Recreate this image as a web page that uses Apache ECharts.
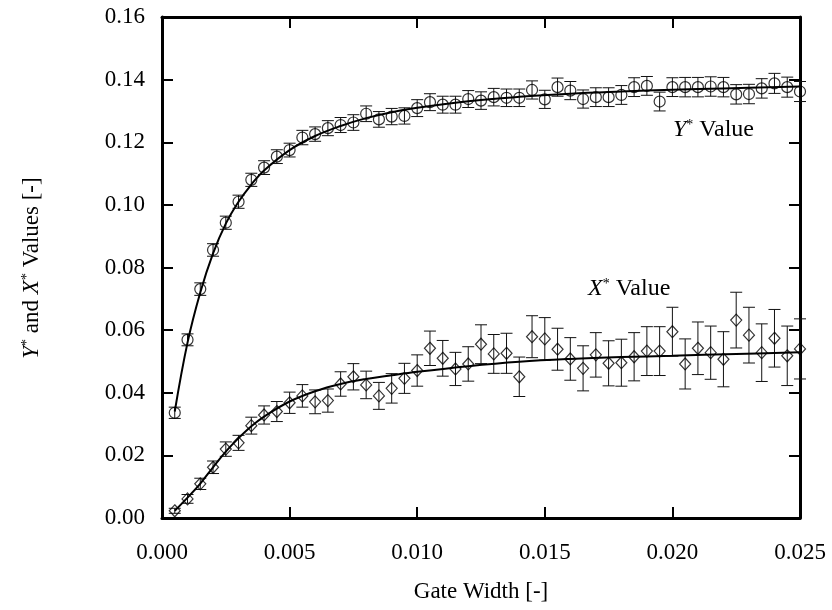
<!DOCTYPE html>
<html>
<head>
<meta charset="utf-8">
<script src="https://cdn.jsdelivr.net/npm/echarts@6/dist/echarts.min.js"></script>
<style>
html,body{margin:0;padding:0;background:#fff;}
#chart{width:832px;height:610px;}
</style>
</head>
<body>
<div id="chart"></div>
<script>
// Gate widths of the measured points
const gateWidth = [
  0.0005,0.0010,0.0015,0.0020,0.0025,0.0030,0.0035,0.0040,0.0045,0.0050,
  0.0055,0.0060,0.0065,0.0070,0.0075,0.0080,0.0085,0.0090,0.0095,0.0100,
  0.0105,0.0110,0.0115,0.0120,0.0125,0.0130,0.0135,0.0140,0.0145,0.0150,
  0.0155,0.0160,0.0165,0.0170,0.0175,0.0180,0.0185,0.0190,0.0195,0.0200,
  0.0205,0.0210,0.0215,0.0220,0.0225,0.0230,0.0235,0.0240,0.0245,0.0250
];
// Y* values (circles) and their errors
const yStar = [
  0.0336,0.0569,0.0731,0.0856,0.0943,0.1010,0.1080,0.1119,0.1154,0.1175,
  0.1215,0.1226,0.1245,0.1255,0.1263,0.1291,0.1273,0.1282,0.1284,0.1309,
  0.1328,0.1320,0.1320,0.1338,0.1333,0.1344,0.1342,0.1342,0.1367,0.1337,
  0.1376,0.1365,0.1338,0.1344,0.1344,0.1351,0.1376,0.1380,0.1330,0.1376,
  0.1376,0.1376,0.1378,0.1376,0.1353,0.1354,0.1372,0.1388,0.1376,0.1362
];
const yStarErr = [
  0.0018,0.0019,0.0020,0.0020,0.0021,0.0021,0.0021,0.0022,0.0022,0.0022,
  0.0023,0.0023,0.0024,0.0024,0.0025,0.0025,0.0025,0.0026,0.0026,0.0027,
  0.0027,0.0027,0.0027,0.0027,0.0028,0.0028,0.0028,0.0028,0.0029,0.0029,
  0.0029,0.0029,0.0029,0.0030,0.0030,0.0030,0.0030,0.0030,0.0030,0.0030,
  0.0031,0.0031,0.0031,0.0031,0.0031,0.0031,0.0031,0.0032,0.0032,0.0032
];
// X* values (diamonds) and their errors
const xStar = [
  0.0023,0.0061,0.0109,0.0162,0.0220,0.0240,0.0295,0.0329,0.0340,0.0368,
  0.0390,0.0371,0.0375,0.0428,0.0451,0.0425,0.0390,0.0414,0.0446,0.0471,
  0.0542,0.0510,0.0476,0.0492,0.0555,0.0524,0.0526,0.0451,0.0579,0.0572,
  0.0539,0.0508,0.0478,0.0521,0.0494,0.0496,0.0515,0.0533,0.0533,0.0595,
  0.0492,0.0542,0.0528,0.0507,0.0632,0.0584,0.0528,0.0574,0.0518,0.0540
];
const xStarErr = [
  0.0008,0.0014,0.0018,0.0020,0.0023,0.0024,0.0027,0.0029,0.0032,0.0034,
  0.0036,0.0038,0.0037,0.0039,0.0042,0.0044,0.0043,0.0047,0.0048,0.0050,
  0.0055,0.0057,0.0053,0.0055,0.0062,0.0062,0.0064,0.0063,0.0067,0.0068,
  0.0067,0.0068,0.0072,0.0071,0.0072,0.0075,0.0077,0.0078,0.0078,0.0078,
  0.0080,0.0084,0.0085,0.0088,0.0089,0.0089,0.0092,0.0092,0.0095,0.0096
];
// Fitted curves
const yFitX = [0.0005,0.0010,0.0015,0.0020,0.0025,0.0030,0.0035,0.0040,0.0050,0.0060,0.0070,0.0080,0.0090,0.0100,0.0120,0.0140,0.0160,0.0180,0.0200,0.0220,0.0250];
const yFitY = [0.0340,0.0560,0.0720,0.0845,0.0940,0.1010,0.1065,0.1110,0.1175,0.1220,0.1252,0.1277,0.1296,0.1310,0.1331,0.1345,0.1355,0.1362,0.1368,0.1372,0.1378];
const xFitX = [0.0005,0.0010,0.0015,0.0020,0.0025,0.0030,0.0035,0.0040,0.0050,0.0060,0.0070,0.0080,0.0090,0.0100,0.0120,0.0140,0.0160,0.0180,0.0200,0.0225,0.0250];
const xFitY = [0.0023,0.0065,0.0110,0.0162,0.0212,0.0255,0.0293,0.0324,0.0372,0.0405,0.0428,0.0444,0.0456,0.0467,0.0485,0.0499,0.0508,0.0514,0.0518,0.0524,0.0529];

const xTickMin = 0, xTickMax = 0.025, xTickStep = 0.005;
const yTickMin = 0, yTickMax = 0.16, yTickStep = 0.02;

const FONT = '"Liberation Serif","Times New Roman",serif';

const chart = echarts.init(document.getElementById('chart'), null, {renderer:'canvas'});

function pairs(xs, ys){ return xs.map((x,i)=>[x, ys[i]]); }
function errData(xs, ys, es){ return xs.map((x,i)=>[x, ys[i]-es[i], ys[i]+es[i]]); }

function errRender(params, api){
  const x = api.value(0);
  const p1 = api.coord([x, api.value(1)]);
  const p2 = api.coord([x, api.value(2)]);
  const w = 6;
  const st = {stroke:'#111', lineWidth:1};
  return {type:'group', children:[
    {type:'line', shape:{x1:p1[0], y1:p1[1], x2:p2[0], y2:p2[1]}, style:st},
    {type:'line', shape:{x1:p1[0]-w, y1:p1[1], x2:p1[0]+w, y2:p1[1]}, style:st},
    {type:'line', shape:{x1:p2[0]-w, y1:p2[1], x2:p2[0]+w, y2:p2[1]}, style:st}
  ]};
}

const axisLineStyle = {color:'#000', width:3};
const tickStyle = {color:'#000', width:2};

const option = {
  animation:false,
  backgroundColor:'#fff',
  grid:{left:162, right:32, top:17, bottom:92},
  xAxis:[
    {type:'value', min:xTickMin, max:xTickMax, interval:xTickStep, position:'bottom',
     axisLine:{show:true, onZero:false, lineStyle:axisLineStyle},
     axisTick:{show:true, inside:true, length:11, lineStyle:tickStyle},
     axisLabel:{color:'#000', fontFamily:FONT, fontSize:23, margin:23, formatter:v=>v.toFixed(3)},
     splitLine:{show:false},
     name:'Gate Width [-]', nameLocation:'middle', nameGap:62,
     nameTextStyle:{color:'#000', fontFamily:FONT, fontSize:23}},
    {type:'value', min:xTickMin, max:xTickMax, interval:xTickStep, position:'top',
     axisLine:{show:true, onZero:false, lineStyle:axisLineStyle},
     axisTick:{show:true, inside:true, length:11, lineStyle:tickStyle},
     axisLabel:{show:false}, splitLine:{show:false}}
  ],
  yAxis:[
    {type:'value', min:yTickMin, max:yTickMax, interval:yTickStep, position:'left',
     axisLine:{show:true, onZero:false, lineStyle:axisLineStyle},
     axisTick:{show:true, inside:true, length:11, lineStyle:tickStyle},
     axisLabel:{color:'#000', fontFamily:FONT, fontSize:23, margin:17, formatter:v=>v.toFixed(2)},
     splitLine:{show:false}},
    {type:'value', min:yTickMin, max:yTickMax, interval:yTickStep, position:'right',
     axisLine:{show:true, onZero:false, lineStyle:axisLineStyle},
     axisTick:{show:true, inside:true, length:11, lineStyle:tickStyle},
     axisLabel:{show:false}, splitLine:{show:false}}
  ],
  graphic:[
    {type:'text', x:32, y:268, rotation:Math.PI/2,
     style:{text:'{i|Y}{s|*} and {i|X}{s|*} Values [-]', align:'center', verticalAlign:'middle',
       fill:'#000', font:'23px ' + FONT,
       rich:{
         i:{fontStyle:'italic', fontSize:23, fontFamily:FONT, fill:'#000'},
         s:{fontSize:14, fontFamily:FONT, fill:'#000', verticalAlign:'top'}
       }}},
    {type:'text', x:673, y:130,
     style:{text:'{i|Y}{s|*} Value', align:'left', verticalAlign:'middle',
       fill:'#000', font:'24px ' + FONT,
       rich:{
         i:{fontStyle:'italic', fontSize:24, fontFamily:FONT, fill:'#000'},
         s:{fontSize:14, fontFamily:FONT, fill:'#000', verticalAlign:'top'}
       }}},
    {type:'text', x:588, y:289,
     style:{text:'{i|X}{s|*} Value', align:'left', verticalAlign:'middle',
       fill:'#000', font:'24px ' + FONT,
       rich:{
         i:{fontStyle:'italic', fontSize:24, fontFamily:FONT, fill:'#000'},
         s:{fontSize:14, fontFamily:FONT, fill:'#000', verticalAlign:'top'}
       }}}
  ],
  series:[
    {type:'custom', name:'Y err', renderItem:errRender, data:errData(gateWidth, yStar, yStarErr), z:1, silent:true},
    {type:'custom', name:'X err', renderItem:errRender, data:errData(gateWidth, xStar, xStarErr), z:1, silent:true},
    {type:'line', name:'Y fit', data:pairs(yFitX, yFitY), smooth:0.4, showSymbol:false, symbol:'none',
     lineStyle:{color:'#000', width:2}, z:2},
    {type:'line', name:'X fit', data:pairs(xFitX, xFitY), smooth:0.4, showSymbol:false, symbol:'none',
     lineStyle:{color:'#000', width:2}, z:2},
    {type:'scatter', name:'Y*', data:pairs(gateWidth, yStar), symbol:'circle', symbolSize:11,
     itemStyle:{color:'rgba(0,0,0,0)', borderColor:'#000', borderWidth:1.2}, z:3},
    {type:'scatter', name:'X*', data:pairs(gateWidth, xStar), symbol:'diamond', symbolSize:[11,12],
     itemStyle:{color:'rgba(0,0,0,0)', borderColor:'#000', borderWidth:1.2}, z:3}
  ]
};
chart.setOption(option);
</script>
</body>
</html>
